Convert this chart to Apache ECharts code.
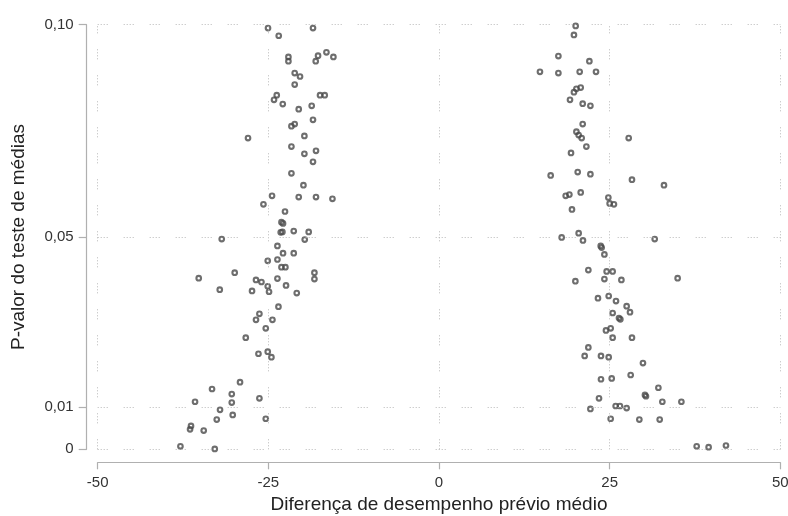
<!DOCTYPE html>
<html>
<head>
<meta charset="utf-8">
<script src="https://cdn.jsdelivr.net/npm/echarts@6/dist/echarts.min.js"></script>
<style>html,body{margin:0;padding:0;background:#fff;}#c{width:788px;height:516px;}</style>
</head>
<body>
<div id="c"></div>
<script>
// Left cluster: [diferença, p-valor]
const leftPoints = [
  [-25.05,0.0992],[-18.46,0.0992],[-23.48,0.0974],[-16.49,0.0935],[-15.47,0.0924],[-17.72,0.0927],
  [-18.06,0.0914],[-22.06,0.0924],[-22.06,0.0914],[-21.14,0.0886],[-20.36,0.0878],[-21.14,0.0859],
  [-17.43,0.0834],[-16.74,0.0834],[-23.77,0.0834],[-24.17,0.0823],[-22.89,0.0813],[-18.65,0.0809],
  [-20.55,0.0801],[-18.46,0.0776],[-21.14,0.0766],[-21.62,0.0761],[-27.98,0.0733],[-19.72,0.0738],
  [-21.62,0.0713],[-18.02,0.0703],[-19.72,0.0696],[-18.46,0.0677],[-21.62,0.0650],[-19.86,0.0622],
  [-24.46,0.0597],[-20.55,0.0594],[-18.02,0.0594],[-15.61,0.0590],[-25.72,0.0577],[-22.56,0.0560],
  [-23.08,0.0535],[-22.85,0.0532],[-23.19,0.0511],[-22.94,0.0512],[-21.28,0.0514],[-19.09,0.0512],
  [-19.67,0.0494],[-31.83,0.0495],[-23.67,0.0479],[-22.85,0.0462],[-21.28,0.0462],[-25.09,0.0444],
  [-23.67,0.0447],[-23.08,0.0429],[-22.50,0.0429],[-18.25,0.0416],[-18.25,0.0401],[-29.93,0.0416],
  [-35.20,0.0403],[-26.81,0.0399],[-26.01,0.0394],[-23.67,0.0402],[-22.41,0.0386],[-25.09,0.0384],
  [-24.90,0.0371],[-32.12,0.0376],[-27.39,0.0373],[-20.84,0.0368],[-23.52,0.0336],[-26.31,0.0319],
  [-26.81,0.0305],[-24.40,0.0305],[-25.38,0.0285],[-28.31,0.0263],[-25.09,0.0230],[-26.45,0.0225],
  [-24.55,0.0217],[-29.15,0.0158],[-33.25,0.0142],[-30.36,0.0130],[-26.31,0.0120],[-35.74,0.0112],
  [-30.36,0.0110],[-32.08,0.0093],[-30.22,0.0081],[-32.56,0.0070],[-25.38,0.0072],[-36.33,0.0055],
  [-36.47,0.0047],[-34.47,0.0044],[-37.88,0.0007],[-32.85,0.0001]
];
// Right cluster
const rightPoints = [
  [20.02,0.0997],[19.77,0.0976],[17.49,0.0926],[22.03,0.0914],[14.79,0.0889],[17.49,0.0886],
  [20.61,0.0889],[23.00,0.0889],[20.76,0.0852],[20.13,0.0849],[19.77,0.0841],[19.19,0.0823],
  [21.05,0.0814],[22.18,0.0809],[21.05,0.0766],[20.13,0.0748],[20.46,0.0740],[20.90,0.0733],
  [27.79,0.0733],[21.59,0.0713],[19.34,0.0698],[20.32,0.0653],[16.36,0.0645],[22.18,0.0648],
  [28.27,0.0635],[32.96,0.0622],[20.76,0.0605],[18.56,0.0597],[19.10,0.0600],[24.81,0.0593],
  [25.00,0.0579],[25.63,0.0577],[19.48,0.0565],[20.46,0.0509],[17.97,0.0499],[21.09,0.0492],
  [31.60,0.0495],[23.69,0.0479],[23.83,0.0475],[24.23,0.0459],[21.88,0.0422],[24.56,0.0419],
  [25.44,0.0419],[34.96,0.0403],[24.23,0.0401],[19.98,0.0396],[26.72,0.0399],[23.29,0.0356],
  [24.86,0.0361],[25.93,0.0349],[27.49,0.0337],[27.98,0.0323],[25.44,0.0321],[26.37,0.0309],
  [26.57,0.0306],[25.15,0.0285],[24.46,0.0280],[25.44,0.0263],[28.27,0.0263],[21.88,0.0240],
  [21.34,0.0220],[23.73,0.0220],[24.86,0.0217],[29.88,0.0203],[23.73,0.0165],[25.30,0.0167],
  [28.08,0.0175],[32.14,0.0145],[30.17,0.0128],[30.32,0.0125],[23.44,0.0120],[32.72,0.0112],
  [35.51,0.0112],[25.88,0.0102],[26.51,0.0102],[27.49,0.0097],[22.18,0.0095],[25.15,0.0072],
  [29.35,0.0070],[32.33,0.0070],[37.75,0.0007],[39.50,0.0005],[42.04,0.0009]
];
const xTicks = [-50, -25, 0, 25, 50];
const yTicks = [0, 0.01, 0.05, 0.10];
const yTickLabels = ['0', '0,01', '0,05', '0,10'];
const xTitle = 'Diferença de desempenho prévio médio';
const yTitle = 'P-valor do teste de médias';

const chart = echarts.init(document.getElementById('c'), null, {renderer: 'canvas'});
const font = 'Liberation Sans, Arial, sans-serif';
const axisGray = '#b0b0b0';
const gridDash = {color: '#b8b8b8', width: 1, type: [1,2,1,2,1,2,1,16]};
const markerStyle = {color: 'rgba(0,0,0,0)', borderColor: '#4a4a4a', borderWidth: 2.1};

chart.setOption({
  animation: false,
  backgroundColor: '#ffffff',
  grid: {left: 97.7, right: 7.7, top: 24.7, bottom: 66.7, containLabel: false, outerBoundsMode: 'none'},
  xAxis: {
    type: 'value', min: -50, max: 50, interval: 25, offset: 13,
    name: xTitle, nameLocation: 'middle', nameGap: 31,
    nameTextStyle: {fontFamily: font, fontSize: 19, color: '#222'},
    axisLine: {show: true, onZero: false, lineStyle: {color: axisGray, width: 1.2}},
    axisTick: {show: true, length: 7, lineStyle: {color: axisGray, width: 1.2}},
    axisLabel: {fontFamily: font, fontSize: 15, color: '#333', margin: 13},
    splitLine: {show: false}
  },
  yAxis: {
    type: 'value', min: 0, max: 0.1, interval: 0.01, offset: 11,
    name: yTitle, nameLocation: 'middle', nameGap: 58, nameRotate: 90,
    nameTextStyle: {fontFamily: font, fontSize: 19, color: '#222'},
    axisLine: {show: true, onZero: false, lineStyle: {color: axisGray, width: 1.2}},
    axisTick: {show: true, length: 8, customValues: yTicks, lineStyle: {color: axisGray, width: 1.2}},
    axisLabel: {
      fontFamily: font, fontSize: 15, color: '#333', margin: 13, customValues: yTicks,
      formatter: function (v) {
        const i = yTicks.findIndex(t => Math.abs(t - v) < 1e-9);
        return i >= 0 ? yTickLabels[i] : '';
      }
    },
    splitLine: {show: false}
  },
  series: [
    {
      type: 'scatter', data: leftPoints, symbol: 'circle', symbolSize: 4.6,
      itemStyle: markerStyle, z: 3,
      markLine: {
        silent: true, symbol: 'none', label: {show: false}, animation: false,
        lineStyle: gridDash,
        data: xTicks.map(v => ({xAxis: v})).concat(yTicks.map(v => ({yAxis: v})))
      }
    },
    {
      type: 'scatter', data: rightPoints, symbol: 'circle', symbolSize: 4.6,
      itemStyle: markerStyle, z: 3
    }
  ]
});
</script>
</body>
</html>
